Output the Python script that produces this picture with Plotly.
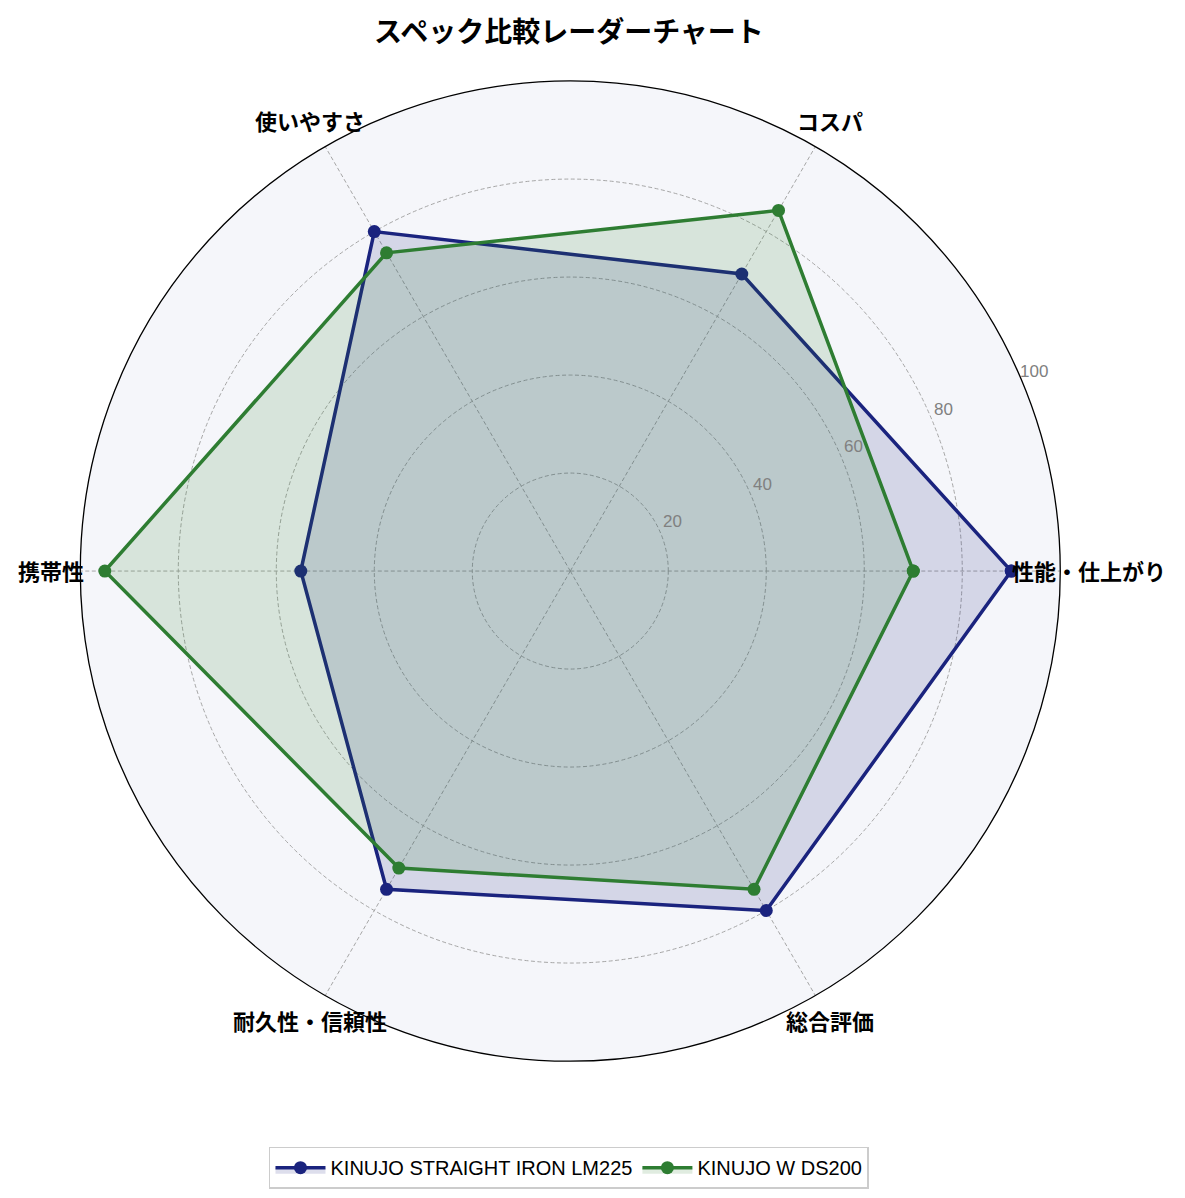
import math
import plotly.graph_objects as go

# Radar chart comparing two KINUJO hair irons
categories = ["性能・仕上がり", "コスパ", "使いやすさ", "携帯性", "耐久性・信頼性", "総合評価"]
lm225_scores = [90, 70, 80, 55, 75, 80]
ds200_scores = [70, 85, 75, 95, 70, 75]
series_names = ["KINUJO STRAIGHT IRON LM225", "KINUJO W DS200"]
radial_ticks = [20, 40, 60, 80, 100]

BLUE = "#1a237e"
GREEN = "#2e7d32"

W, H = 1185, 1198
# polar circle geometry on the page, used to place the matplotlib-style labels
CX_PX, CY_PX = 562, 562
RADIUS_PX = 490
R_MAX = 100
LABEL_SCALE = 1.06
RLABEL_ANGLE = 22.5
RLABEL_NUDGE = (11.5, 10.5)  # px right / up from the tick position
GRID_DASH = "4px,2.5px"


def closed(values):
    return list(values) + [values[0]]


def to_paper(r_px, deg, dx=0.0, dy=0.0):
    a = math.radians(deg)
    x = (CX_PX + r_px * math.cos(a) + dx) / W
    y = 1 - (CY_PX - r_px * math.sin(a) - dy) / H
    return x, y


fig = go.Figure()

for name, scores, color, fill in [
    (series_names[0], lm225_scores, BLUE, "rgba(26, 35, 126, 0.15)"),
    (series_names[1], ds200_scores, GREEN, "rgba(46, 125, 50, 0.15)"),
]:
    fig.add_trace(go.Scatterpolar(
        r=closed(scores),
        theta=closed(categories),
        mode="lines+markers",
        fill="toself",
        fillcolor=fill,
        line=dict(color=color, width=3.5),
        marker=dict(color=color, size=13),
        name=name,
    ))

# category labels, centred just outside the outer ring
step = 360 / len(categories)
for i, cat in enumerate(categories):
    x, y = to_paper(LABEL_SCALE * RADIUS_PX, i * step)
    fig.add_annotation(
        text=f"<b>{cat}</b>", xref="paper", yref="paper", x=x, y=y,
        xanchor="center", yanchor="middle", showarrow=False,
        font=dict(family="Noto Sans CJK JP", size=22, color="black"),
    )

# radial tick labels, horizontal and nudged off the 22.5 deg ray
for t in radial_ticks:
    x, y = to_paper(t / R_MAX * RADIUS_PX, RLABEL_ANGLE, *RLABEL_NUDGE)
    fig.add_annotation(
        text=str(t), xref="paper", yref="paper", x=x, y=y,
        xanchor="center", yanchor="middle", showarrow=False,
        font=dict(family="Liberation Sans", size=17, color="#808080"),
    )

fig.update_layout(
    width=W,
    height=H,
    paper_bgcolor="white",
    margin=dict(l=0, r=0, t=0, b=0),
    title=dict(
        text="<b>スペック比較レーダーチャート</b>",
        x=0.4734, xanchor="center", y=0.98, yanchor="middle",
        font=dict(family="Noto Sans CJK JP", size=28, color="black"),
    ),
    polar=dict(
        domain=dict(x=[0.061, 0.888], y=[0.121, 0.939]),
        bgcolor="#f5f6fa",
        radialaxis=dict(
            range=[0, R_MAX],
            tickvals=radial_ticks,
            angle=RLABEL_ANGLE,
            showticklabels=False,
            showline=False,
            ticks="",
            gridcolor="#a6a6a6",
            griddash=GRID_DASH,
            gridwidth=0.8,
        ),
        angularaxis=dict(
            direction="counterclockwise",
            rotation=0,
            ticks="",
            showticklabels=False,
            showline=True,
            linecolor="black",
            linewidth=1.3,
            gridcolor="#a6a6a6",
            griddash=GRID_DASH,
            gridwidth=0.8,
        ),
    ),
    legend=dict(
        orientation="h",
        x=0.4734, xanchor="center",
        y=0.032, yanchor="middle",
        bordercolor="#cccccc",
        borderwidth=1.5,
        itemwidth=50,
        font=dict(family="Liberation Sans", size=20, color="black"),
    ),
)

fig.write_html("out.html")
